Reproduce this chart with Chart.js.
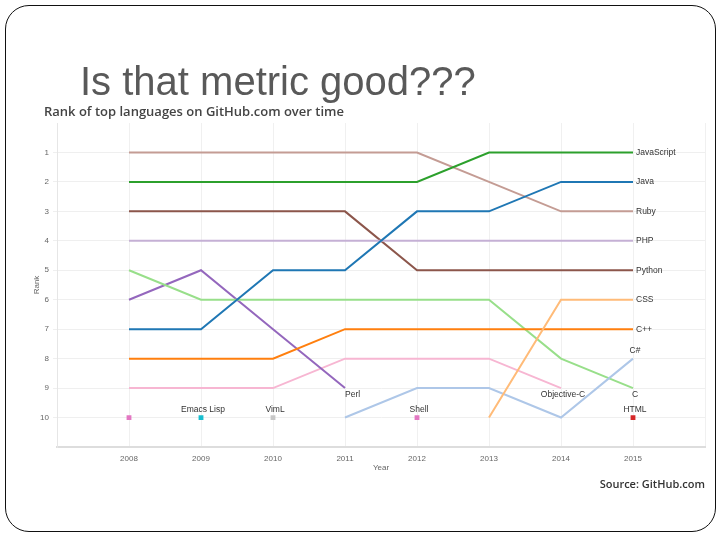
<!DOCTYPE html>
<html>
<head>
<meta charset="utf-8">
<script src="https://cdn.jsdelivr.net/npm/chart.js@4/dist/chart.umd.min.js"></script>
<style>
  html, body { margin: 0; padding: 0; background: #fff; }
  #slide { position: relative; width: 720px; height: 540px; overflow: hidden; }
  #frame { position: absolute; left: 5px; top: 5px; width: 711px; height: 527px;
           border: 1.5px solid #111; border-radius: 24px; box-sizing: border-box; }
  #heading { position: absolute; left: 80px; top: 61px; font: 40px/40px "Liberation Sans", Arial, sans-serif;
             color: #595959; white-space: nowrap; }
  #chartTitle { position: absolute; left: 44px; top: 102px; font: 600 13px "Open Sans", sans-serif;
                color: #444; white-space: nowrap; }
  #source { position: absolute; right: 15px; top: 476px; font: 600 11px "Open Sans", sans-serif;
            color: #333; white-space: nowrap; }
  canvas { position: absolute; left: 0; top: 0; }
</style>
</head>
<body>
<div id="slide">
  <canvas id="rankChart" width="720" height="540"></canvas>
  <div id="frame"></div>
  <div id="heading">Is that metric good???</div>
  <div id="chartTitle">Rank of top languages on GitHub.com over time</div>
  <div id="source">Source: GitHub.com</div>
</div>
<script>
// Dados: anos e ranking de cada linguagem (null = fora do top 10)
const years = [2008, 2009, 2010, 2011, 2012, 2013, 2014, 2015];

const javascript = [2, 2, 2, 2, 2, 1, 1, 1];
const java       = [7, 7, 5, 5, 3, 3, 2, 2];
const ruby       = [1, 1, 1, 1, 1, 2, 3, 3];
const php        = [4, 4, 4, 4, 4, 4, 4, 4];
const python     = [3, 3, 3, 3, 5, 5, 5, 5];
const css        = [null, null, null, null, null, 10, 6, 6];
const cpp        = [8, 8, 8, 7, 7, 7, 7, 7];
const csharp     = [null, null, null, 10, 9, 9, 10, 8];
const cLang      = [5, 6, 6, 6, 6, 6, 8, 9];
const perl       = [6, 5, 7, 9, null, null, null, null];
const objc       = [9, 9, 9, 8, 8, 8, 9, null];
const shell      = [10, null, null, null, 10, null, null, null];
const emacsLisp  = [null, 10, null, null, null, null, null, null];
const viml       = [null, null, 10, null, null, null, null, null];
const html       = [null, null, null, null, null, null, null, 10];

const rankTicks = [1, 2, 3, 4, 5, 6, 7, 8, 9, 10];

// Função auxiliar para montar os pontos {x, y}
function toPoints(values) {
    return years.map((yr, i) => ({ x: yr, y: values[i] }));
}

function series(label, values, color, single) {
    return {
        label: label,
        data: toPoints(values),
        borderColor: color,
        backgroundColor: color,
        borderWidth: 2,
        tension: 0,
        spanGaps: false,
        pointRadius: single ? 2 : 0,
        pointStyle: 'rect',
        showLine: !single
    };
}

const datasets = [
    series('JavaScript', javascript, '#2ca02c'),
    series('Java', java, '#1f77b4'),
    series('Ruby', ruby, '#c49c94'),
    series('PHP', php, '#c5b0d5'),
    series('Python', python, '#8c564b'),
    series('CSS', css, '#ffbb78'),
    series('C++', cpp, '#ff7f0e'),
    series('C#', csharp, '#aec7e8'),
    series('C', cLang, '#98df8a'),
    series('Perl', perl, '#9467bd'),
    series('Objective-C', objc, '#f7b6d2'),
    series('Shell', shell, '#e377c2', true),
    series('Emacs Lisp', emacsLisp, '#17becf', true),
    series('VimL', viml, '#c7c7c7', true),
    series('HTML', html, '#d62728', true)
];

// Onde cada rótulo vai (índice do ano e lado)
const labelPlacement = {
    'JavaScript': [7, 'right'], 'Java': [7, 'right'], 'Ruby': [7, 'right'],
    'PHP': [7, 'right'], 'Python': [7, 'right'], 'CSS': [7, 'right'], 'C++': [7, 'right'],
    'C#': [7, 'above'], 'C': [7, 'below'], 'HTML': [7, 'above'],
    'Perl': [3, 'belowRight'], 'Objective-C': [6, 'below'],
    'Shell': [4, 'above'], 'Emacs Lisp': [1, 'above'], 'VimL': [2, 'above']
};

const endLabels = {
    id: 'endLabels',
    afterDatasetsDraw(chart) {
        const ctx = chart.ctx;
        ctx.save();
        ctx.font = '8.5px "Liberation Sans", Arial, sans-serif';
        ctx.fillStyle = '#333';
        chart.data.datasets.forEach((ds, i) => {
            const place = labelPlacement[ds.label];
            if (!place) return;
            const pt = chart.getDatasetMeta(i).data[place[0]];
            if (!pt) return;
            let x = pt.x, y = pt.y;
            if (place[1] === 'right') { ctx.textAlign = 'left'; ctx.textBaseline = 'middle'; x += 3; }
            else if (place[1] === 'above') { ctx.textAlign = 'center'; ctx.textBaseline = 'middle'; y -= 8; x += 2; }
            else if (place[1] === 'below') { ctx.textAlign = 'center'; ctx.textBaseline = 'middle'; y += 7; x += 2; }
            else { ctx.textAlign = 'left'; ctx.textBaseline = 'middle'; y += 7; }
            ctx.fillText(ds.label, x, y);
        });
        ctx.restore();
    }
};

const tickFont = { family: '"Liberation Sans", Arial, sans-serif', size: 8 };

new Chart(document.getElementById('rankChart').getContext('2d'), {
    type: 'line',
    data: { datasets: datasets },
    options: {
        responsive: false,
        animation: false,
        layout: { padding: { left: 30, right: 15, top: 123, bottom: 63 } },
        plugins: { legend: { display: false }, tooltip: { enabled: false } },
        scales: {
            x: {
                type: 'linear',
                min: 2007,
                max: 2016,
                afterFit(scale) { scale.height = 30; },
                ticks: {
                    stepSize: 1,
                    font: tickFont,
                    color: '#666',
                    maxRotation: 0,
                    callback: (v) => years.includes(v) ? String(v) : ''
                },
                grid: { color: '#f0f0f0', tickLength: 4, tickColor: 'transparent' },
                border: { color: '#ddd', width: 2 },
                title: { display: true, text: 'Year', font: tickFont, color: '#666', padding: { top: 2, bottom: 4 } }
            },
            y: {
                reverse: true,
                min: 0,
                max: 11,
                afterFit(scale) { scale.width = 27; },
                afterBuildTicks(scale) { scale.ticks = [0, ...rankTicks, 11].map(v => ({ value: v })); },
                ticks: {
                    font: tickFont,
                    color: '#666',
                    padding: 4,
                    callback: (v) => rankTicks.includes(v) ? String(v) : ''
                },
                grid: {
                    color: (c) => (c.tick && rankTicks.includes(c.tick.value)) ? '#efefef' : 'transparent',
                    tickLength: 4
                },
                border: { color: '#e6e6e6', width: 1 },
                title: { display: true, text: 'Rank', font: tickFont, color: '#666', padding: 2 }
            }
        }
    },
    plugins: [endLabels]
});
</script>
</body>
</html>
